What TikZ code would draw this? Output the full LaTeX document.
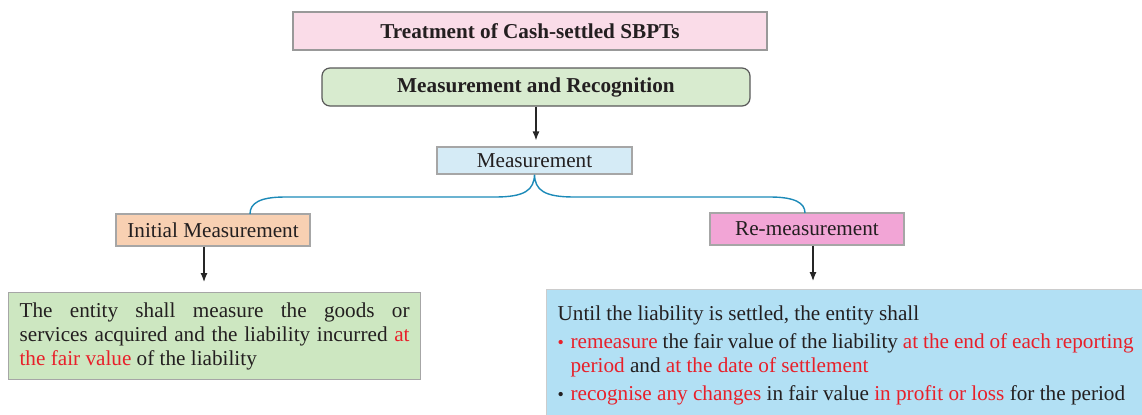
\documentclass[tikz,border=0pt]{standalone}
\usepackage{fontspec}
\setmainfont{Liberation Serif}
\usepackage{xcolor}
\usepackage{tikz}
\usetikzlibrary{arrows.meta,calc}
\definecolor{txtgray}{HTML}{231F20}
\definecolor{hlred}{HTML}{E8202A}
\definecolor{headpink}{HTML}{FADCE8}
\definecolor{mrgreen}{HTML}{D8EBCF}
\definecolor{measblue}{HTML}{D5EBF6}
\definecolor{initpeach}{HTML}{F8D0B2}
\definecolor{repink}{HTML}{F2A5D6}
\definecolor{boxgreen}{HTML}{CDE7C1}
\definecolor{boxblue}{HTML}{B2E0F4}
\definecolor{bracecol}{HTML}{1C8AB8}
\newcommand{\hl}[1]{\textcolor{hlred}{#1}}
\newcommand{\bul}[1]{\makebox[6.5pt][l]{\textcolor{#1}{\raisebox{0.05ex}{\small\textbullet}}}}

\begin{document}
\begin{tikzpicture}[x=0.5pt, y=-0.5pt,
  box/.style={rectangle, draw=black!35, line width=0.6pt, inner sep=0pt,
              font=\fontsize{10.6}{12}\selectfont, text=txtgray},
  headbox/.style={box, font=\fontsize{10.6}{12}\selectfont\bfseries},
  txtbox/.style={box, inner xsep=5.5pt, inner ysep=4pt, align=justify},
  arr/.style={-{Latex[length=4.5pt,width=3.5pt]}, line width=0.6pt, black!85},
  link/.style={draw=bracecol, line width=0.7pt}]
  \useasboundingbox (0,0) rectangle (1142,414);
  \node[headbox, fill=headpink, draw=black!40, minimum width=237pt, minimum height=19pt]
    (n0) at (530,31) {Treatment of Cash-settled SBPTs};
  \node[headbox, fill=mrgreen, draw=black!65, rounded corners=4pt,
        minimum width=214pt, minimum height=19pt]
    (n1) at (536,87) {Measurement and Recognition};
  \node[box, fill=measblue, minimum width=97.5pt, minimum height=13.5pt]
    (n2) at (534.5,160.5) {Measurement};
  \node[box, fill=initpeach, minimum width=97pt, minimum height=16pt]
    (n3) at (213,230) {Initial Measurement};
  \node[box, fill=repink, minimum width=97pt, minimum height=16pt]
    (n4) at (807,229) {Re-measurement};
  \node[txtbox, fill=boxgreen, anchor=north west, text width=195pt,
        minimum height=43.5pt]
    (n5) at (8,292) {The entity shall measure the goods or\linebreak
    services acquired and the liability incurred \hl{at}\linebreak
    \hl{the fair value} of the liability};
  \node[txtbox, fill=boxblue, draw=black!20, anchor=north west, text width=288pt,
        inner ysep=5pt, minimum height=66pt]
    (n6) at (546,289) {Until the liability is settled, the entity shall\hfill\par
    \vspace{2pt}\hangindent=6.5pt\hangafter=1
    \bul{hlred}\hl{remeasure} the fair value of the liability \hl{at the end of each reporting}\linebreak
    \hl{period} and \hl{at the date of settlement}\hfill\par
    \vspace{2pt}\hangindent=6.5pt\hangafter=1
    \bul{txtgray}\hl{recognise any changes} in fair value \hl{in profit or loss} for the period\hfill};
  % brace from Measurement to both branches
  \coordinate (b1) at (250,214);
  \coordinate (b2) at (805,213);
  \draw[link] (b1) .. controls (250,203) and (260,197) .. (285,197)
    -- (495,197) .. controls (525,197) and (534,190) .. (n2.south)
    .. controls (535,190) and (544,197) .. (574,197)
    -- (770,197) .. controls (795,197) and (805,203) .. (b2);
  \coordinate (a1) at ($(n3.south)+(-9,0)$);
  \coordinate (a2) at ($(n4.south)+(6,0)$);
  \draw[arr, shorten >=3pt] (n1.south) -- (n1.south |- n2.north);
  \draw[arr, shorten >=5pt] (a1) -- (a1 |- n5.north);
  \draw[arr, shorten >=4pt] (a2) -- (a2 |- n6.north);
\end{tikzpicture}
\end{document}
